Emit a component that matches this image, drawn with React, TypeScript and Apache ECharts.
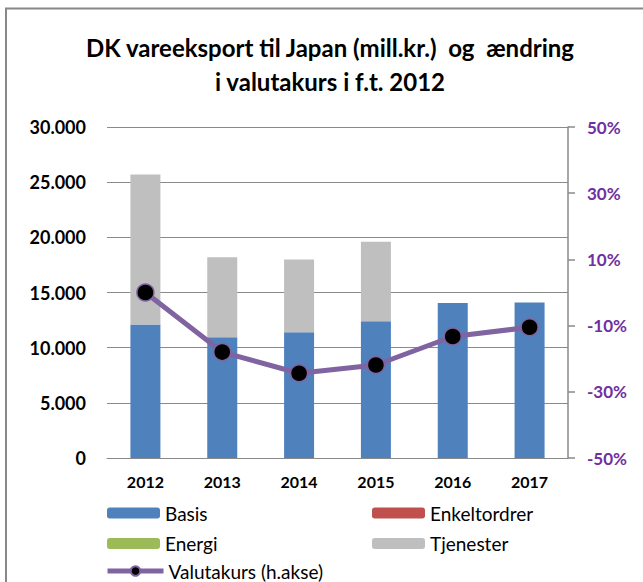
import React, { useEffect, useRef } from "react";
import * as echarts from "echarts";

const categories = ["2012", "2013", "2014", "2015", "2016", "2017"];
const basis = [12100, 10950, 11400, 12400, 14050, 14100];
const enkeltordrer = [0, 0, 0, 0, 0, 0];
const energi = [0, 0, 0, 0, 0, 0];
const tjenester = [13600, 7250, 6600, 7200, 0, 0];
const valutakurs = [0, -18, -24.4, -21.9, -13.3, -10.5];
const rightTicks = [-50, -30, -10, 10, 30, 50];

const FONT = "Lato, 'Open Sans', sans-serif";
const GRID_GRAY = "#8a8a8a";

export default function App() {
  const ref = useRef<HTMLDivElement>(null);
  useEffect(() => {
    if (!ref.current) return;
    const chart = echarts.init(ref.current, null, { renderer: "svg" });
    const legendText = { fontFamily: FONT, fontSize: 19, color: "#000" };
    const mkLegend = (name: string, left: number, top: number, isLine = false) => ({
      data: [name],
      left,
      top,
      orient: "horizontal",
      itemWidth: isLine ? 56 : 53,
      itemHeight: isLine ? 12 : 11,
      itemGap: 4,
      padding: 0,
      textStyle: { ...legendText },
      lineStyle: isLine ? { width: 5, color: "#8064A2" } : undefined,
      selectedMode: false,
    });
    const fmtThousand = (v: number) =>
      String(v).replace(/\B(?=(\d{3})+(?!\d))/g, ".");
    chart.setOption({
      animation: false,
      backgroundColor: "#fff",
      title: {
        text: "DK vareeksport til Japan (mill.kr.)  og  ændring\ni valutakurs i f.t. 2012",
        left: 330,
        textAlign: "center",
        top: 30,
        padding: 0,
        textStyle: {
          fontFamily: FONT,
          fontSize: 24,
          fontWeight: "bold",
          color: "#000",
          lineHeight: 34,
        },
      },
      graphic: [
        {
          type: "rect",
          shape: { x: 6, y: 8.5, width: 800, height: 800 },
          style: { fill: "none", stroke: "#888", lineWidth: 2 },
          silent: true,
        },
      ],
      legend: [
        mkLegend("Basis", 107, 503.5),
        mkLegend("Enkeltordrer", 372, 503.5),
        mkLegend("Energi", 107, 534),
        mkLegend("Tjenester", 372, 534),
        mkLegend("Valutakurs (h.akse)", 105, 561.5, true),
      ],
      grid: { left: 107, right: 75, top: 127, bottom: 124 },
      xAxis: {
        type: "category",
        data: categories,
        axisLine: { lineStyle: { color: GRID_GRAY, width: 1 } },
        axisTick: { show: false },
        axisLabel: {
          fontFamily: FONT,
          fontSize: 16,
          fontWeight: "bold",
          color: "#000",
          margin: 15,
        },
      },
      yAxis: [
        {
          type: "value",
          min: 0,
          max: 30000,
          interval: 5000,
          axisLine: { show: false },
          axisTick: { show: false },
          splitLine: { lineStyle: { color: GRID_GRAY, width: 1 } },
          axisLabel: {
            fontFamily: FONT,
            fontSize: 18,
            fontWeight: "bold",
            color: "#000",
            margin: 21,
            formatter: (v: number) => fmtThousand(v),
          },
        },
        {
          type: "value",
          position: "right",
          min: -50,
          max: 50,
          splitLine: { show: false },
          axisLine: { show: true, lineStyle: { color: GRID_GRAY, width: 1.5 } },
          axisTick: {
            show: true,
            length: 7,
            customValues: rightTicks,
            lineStyle: { color: GRID_GRAY, width: 1.5 },
          },
          axisLabel: {
            fontFamily: FONT,
            fontSize: 17,
            fontWeight: "bold",
            color: "#7030A0",
            margin: 19,
            customValues: rightTicks,
            formatter: (v: number) => `${v}%`,
          },
        },
      ],
      series: [
        {
          name: "Basis",
          type: "bar",
          stack: "total",
          data: basis,
          barWidth: 30,
          itemStyle: { color: "#4F81BD" },
        },
        {
          name: "Enkeltordrer",
          type: "bar",
          stack: "total",
          data: enkeltordrer,
          barWidth: 30,
          itemStyle: { color: "#C0504D" },
        },
        {
          name: "Energi",
          type: "bar",
          stack: "total",
          data: energi,
          barWidth: 30,
          itemStyle: { color: "#9BBB59" },
        },
        {
          name: "Tjenester",
          type: "bar",
          stack: "total",
          data: tjenester,
          barWidth: 30,
          itemStyle: { color: "#BFBFBF" },
        },
        {
          name: "Valutakurs (h.akse)",
          type: "line",
          yAxisIndex: 1,
          data: valutakurs,
          symbol: "circle",
          symbolSize: 17,
          lineStyle: { color: "#8064A2", width: 5 },
          itemStyle: { color: "#000", borderColor: "#8064A2", borderWidth: 1.5 },
          z: 5,
        },
      ],
    });
    return () => chart.dispose();
  }, []);
  return (
    <div
      ref={ref}
      style={{ position: "fixed", left: 0, top: 0, width: 643, height: 582 }}
    />
  );
}
